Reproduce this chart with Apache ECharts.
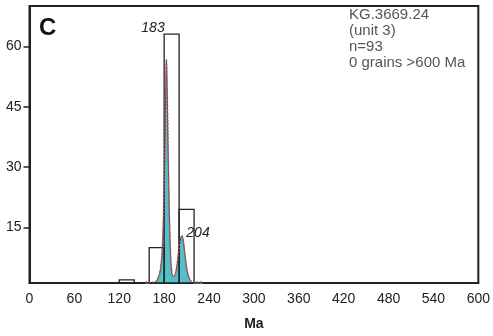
<!DOCTYPE html>
<html><head><meta charset="utf-8">
<script src="https://cdn.jsdelivr.net/npm/echarts@6/dist/echarts.min.js"></script>
<style>html,body{margin:0;padding:0;background:#fff}#c{width:493px;height:336px}</style>
</head><body><div id="c"></div>
<script>
// histogram bins (Ma) and counts
const binStarts = [120, 160, 180, 200];
const binEnds   = [140, 180, 200, 220];
const binCounts = [2, 10, 63, 19.5];
// probability density curve (Ma, relative height)
const kdeAges = [155,160,165,168,170,172,174,176,177,178,179,180,181,182,183,184,185,186,187,188,189,190,191,192,194,196,198,200,202,203,204,205,206,208,210,212,214,216,218,220,224,228,232];
const kdeVals = [0,0.3,0.8,1.3,1.8,2.5,3.5,6,8,11.5,17,25,36,48,56.7,50,38,27,18,11,6.5,4.2,3.2,2.8,3,4.3,6.8,10,12.2,12.8,12.9,12.3,11.2,8,5,3.2,2.2,1.6,1.2,0.9,0.5,0.2,0];
const yTicks = [15, 30, 45, 60];
const peakLabels = ['183', '204'];
const infoLines = ['KG.3669.24', '(unit 3)', 'n=93', '0 grains >600 Ma'];

const chart = echarts.init(document.getElementById('c'), null, {renderer: 'canvas'});
const bars = binStarts.map((s, i) => [s, binEnds[i], binCounts[i]]);
const kde = kdeAges.map((a, i) => [a, kdeVals[i]]);
const red = kdeAges.map((a, i) => [a, Math.max(kdeVals[i], 1.45)]);
const font = 'Liberation Sans, Arial, sans-serif';

chart.setOption({
  animation: false,
  grid: {left: 29.5, right: 13, top: 6, bottom: 51, show: true, borderColor: '#222', borderWidth: 2, backgroundColor: 'transparent'},
  xAxis: {
    type: 'value', min: 0, max: 600, interval: 60,
    name: 'Ma', nameLocation: 'middle', nameGap: 34,
    nameTextStyle: {fontFamily: font, fontSize: 14, fontWeight: 'bold', color: '#222'},
    axisLine: {show: true, lineStyle: {color: '#222', width: 2}},
    axisTick: {show: false},
    axisLabel: {fontFamily: font, fontSize: 14, color: '#222', margin: 9},
    splitLine: {show: false}
  },
  yAxis: {
    type: 'value', min: 1.2, max: 70,
    axisLine: {show: true, lineStyle: {color: '#222', width: 2}},
    axisTick: {show: true, customValues: yTicks, length: 6, lineStyle: {color: '#222', width: 1.5}},
    axisLabel: {customValues: yTicks, fontFamily: font, fontSize: 14, color: '#222', margin: 8},
    splitLine: {show: false}
  },
  series: [
    {
      type: 'line', data: kde, smooth: 0.3, showSymbol: false, z: 2,
      lineStyle: {color: '#3a4a4c', width: 1},
      areaStyle: {color: '#52c0c9', opacity: 1, origin: 'start'}
    },
    {
      type: 'line', data: red, smooth: 0.3, showSymbol: false, z: 4,
      lineStyle: {color: '#e0485a', width: 1.6, type: [1.5, 2]}
    },
    {
      type: 'custom', z: 3, data: bars,
      renderItem: function (params, api) {
        const p0 = api.coord([api.value(0), api.value(2)]);
        const p1 = api.coord([api.value(1), 1.2]);
        return {type: 'rect', shape: {x: p0[0], y: p0[1], width: p1[0] - p0[0], height: p1[1] - p0[1]},
          style: {fill: 'none', stroke: '#222', lineWidth: 1.3}};
      }
    }
  ],
  graphic: [
    {type: 'text', left: 39, top: 16, style: {text: 'C', font: 'bold 24px ' + font, fill: '#111'}},
    {type: 'text', x: 153, y: 28, style: {text: peakLabels[0], font: 'italic 14px ' + font, fill: '#222', align: 'center', verticalAlign: 'middle'}},
    {type: 'text', x: 198, y: 233, style: {text: peakLabels[1], font: 'italic 14px ' + font, fill: '#222', align: 'center', verticalAlign: 'middle'}},
    {type: 'text', x: 349, y: 7, style: {text: infoLines.join('\n'), font: '15px ' + font, lineHeight: 16, fill: '#555'}}
  ]
});
</script></body></html>
